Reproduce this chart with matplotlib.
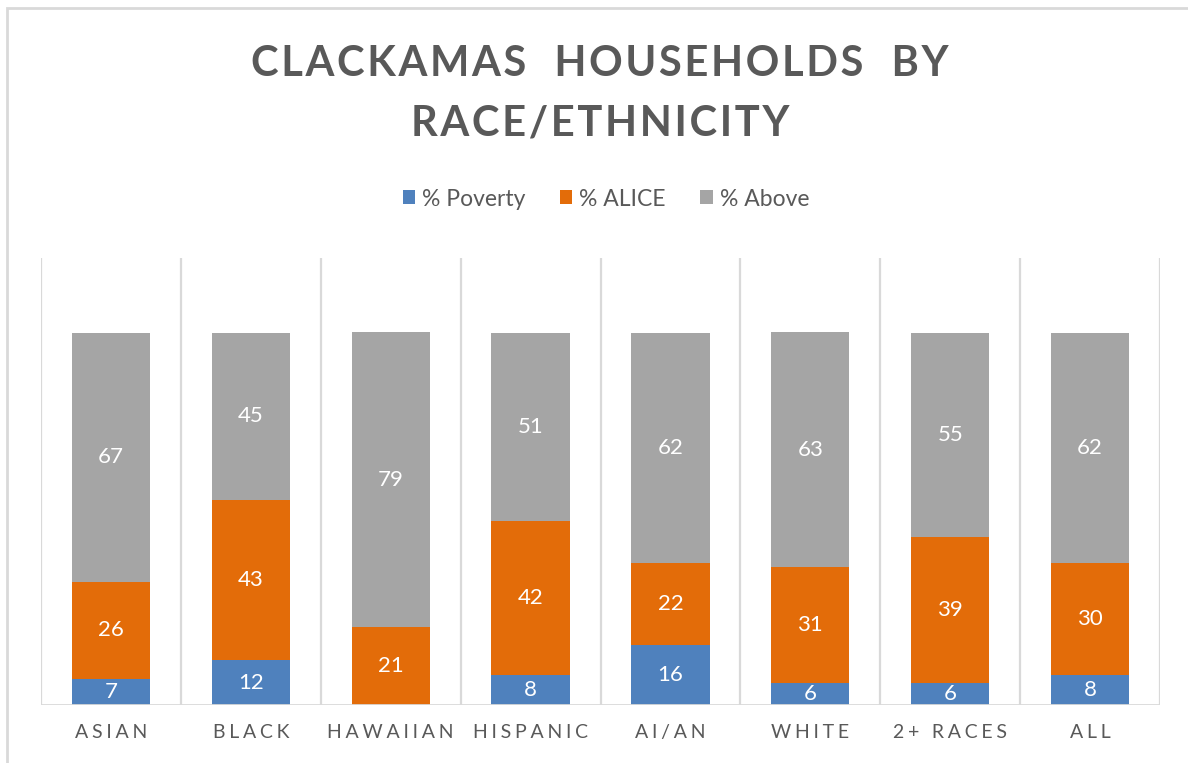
import numpy as np
import matplotlib.pyplot as plt
from matplotlib.patches import Rectangle

categories = ["ASIAN", "BLACK", "HAWAIIAN", "HISPANIC", "AI/AN", "WHITE", "2+ RACES", "ALL"]
poverty = [7, 12, 0, 8, 16, 6, 6, 8]
alice = [26, 43, 21, 42, 22, 31, 39, 30]
above = [67, 45, 79, 51, 62, 63, 55, 62]
series_names = ["% Poverty", "% ALICE", "% Above"]
colors = ["#4F81BD", "#E36C09", "#A5A5A5"]

FONT = "Lato"
TXT = "#595959"
GRID = "#D9D9D9"


def spaced(s, sep):
    return sep.join(list(s))


vals = np.array([poverty, alice, above], dtype=float)
tot = vals.sum(axis=0)
pct = vals / tot * 100  # 100% stacked

fig = plt.figure(figsize=(11.88, 7.63), dpi=100)
ax = fig.add_axes([41/1188, 58/763, 1119/1188, 447/763])

x = np.arange(len(categories))
bottom = np.zeros(len(categories))
for i in range(3):
    ax.bar(x, pct[i], 0.56, bottom=bottom, color=colors[i], label=series_names[i], zorder=3)
    for j in range(len(categories)):
        if vals[i, j] > 0:
            ax.text(x[j], bottom[j] + pct[i, j] / 2, "%d" % vals[i, j], ha="center", va="center",
                    color="white", fontsize=16, family=FONT, zorder=4)
    bottom += pct[i]

ax.set_xlim(-0.5, len(categories) - 0.5)
ax.set_ylim(0, 120)
for b in np.arange(-0.5, len(categories), 1):
    ax.axvline(b, color=GRID, lw=1.6, zorder=1)
for s in ax.spines.values():
    s.set_visible(False)
ax.axhline(0, color=GRID, lw=2, zorder=5)
ax.set_yticks([])
ax.set_xticks(x)
ax.set_xticklabels([spaced(c, "\u2009\u200a") for c in categories], fontsize=14, color=TXT, family=FONT)
ax.tick_params(axis="x", length=0, pad=14)

fig.text(0.505, 1 - 64/763, spaced("CLACKAMAS  HOUSEHOLDS  BY", "\u200a"), ha="center", va="center",
         fontsize=30, fontweight="bold", color=TXT, family=FONT)
fig.text(0.505, 1 - 123/763, spaced("RACE/ETHNICITY", "\u200a"), ha="center", va="center",
         fontsize=30, fontweight="bold", color=TXT, family=FONT)

leg = fig.legend(loc="center", bbox_to_anchor=(0.51, 1 - 199/763), ncol=3, frameon=False,
                 handlelength=0.55, handleheight=0.55, handletextpad=0.3, columnspacing=1.5,
                 prop={"family": FONT, "size": 16.5})
for t in leg.get_texts():
    t.set_color(TXT)

fig.patches.append(Rectangle((7/1188, -0.1), 2, (763 - 8)/763 + 0.1, transform=fig.transFigure,
                             fill=False, edgecolor=GRID, lw=2))

fig.savefig("out.png", dpi=100)
